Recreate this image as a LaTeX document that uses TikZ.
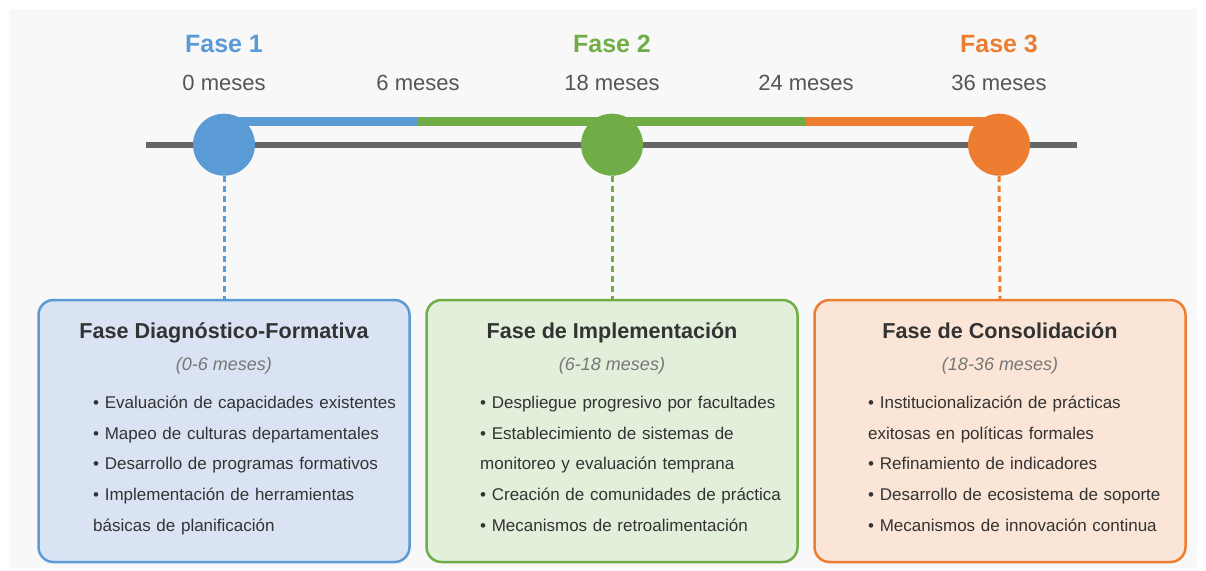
\documentclass[tikz,border=0pt]{standalone}
\usepackage{fontspec}
\setmainfont{Liberation Sans}

\definecolor{fblue}{HTML}{5B9BD5}
\definecolor{fgreen}{HTML}{70AD47}
\definecolor{forange}{HTML}{ED7D31}
\definecolor{lblue}{HTML}{DAE3F3}
\definecolor{lgreen}{HTML}{E2EFDA}
\definecolor{lorange}{HTML}{FBE5D6}
\definecolor{bggray}{HTML}{F8F8F8}
\definecolor{axisgray}{HTML}{666666}
\definecolor{darktext}{HTML}{333333}
\definecolor{ticktext}{HTML}{555555}
\definecolor{subtext}{HTML}{777777}

\begin{document}
\begin{tikzpicture}[x=1pt,y=-1pt,
	phasedot/.style={circle,minimum size=62pt,inner sep=0pt},
	phasename/.style={font=\fontsize{25}{30}\selectfont\bfseries},
	monthlabel/.style={text=ticktext,font=\fontsize{22}{26}\selectfont},
	card/.style={draw,line width=2.5pt,rounded corners=15pt,minimum width=371pt,minimum height=262pt},
	cardtitle/.style={text=darktext,font=\fontsize{21.6}{25}\selectfont\bfseries,anchor=base},
	cardspan/.style={text=subtext,font=\fontsize{18}{22}\selectfont\itshape,anchor=base},
	cardlist/.style={text=darktext,font=\fontsize{17}{30.7}\selectfont,align=left,text width=320pt,inner sep=0pt,anchor=base west},
	link/.style={line width=3pt,dash pattern=on 6pt off 4pt}]
	\useasboundingbox (0,0) rectangle (1206,570);
	\fill[bggray] (9,9) rectangle (1197,568);

	% time axis
	\draw[line width=6pt,axisgray] (146,144.7) -- (1077,144.7);
	\draw[line width=9pt,fblue] (224,121) -- (418,121);
	\draw[line width=9pt,fgreen] (418,121) -- (806,121);
	\draw[line width=9pt,forange] (806,121) -- (999,121);

	% phase markers
	\node[phasedot,fill=fblue] (c1) at (224,144.7) {};
	\node[phasedot,fill=fgreen] (c2) at (612,144.7) {};
	\node[phasedot,fill=forange] (c3) at (999,144.7) {};

	\node[phasename,text=fblue,anchor=base] (f1) at (224,52.3) {Fase 1};
	\node[phasename,text=fgreen,anchor=base] (f2) at (612,52.3) {Fase 2};
	\node[phasename,text=forange,anchor=base] (f3) at (999,52.3) {Fase 3};

	% months
	\node[monthlabel,anchor=base] (m0) at (224,90.7) {0 meses};
	\node[monthlabel,anchor=base] (m6) at (418,90.7) {6 meses};
	\node[monthlabel,anchor=base] (m18) at (612,90.7) {18 meses};
	\node[monthlabel,anchor=base] (m24) at (806,90.7) {24 meses};
	\node[monthlabel,anchor=base] (m36) at (999,90.7) {36 meses};

	% cards
	\node[card,draw=fblue,fill=lblue] (b1) at (224,431) {};
	\node[card,draw=fgreen,fill=lgreen] (b2) at (612,431) {};
	\node[card,draw=forange,fill=lorange] (b3) at (1000,431) {};

	% dashed links
	\draw[link,fblue] (c1.south) -- (b1.north);
	\draw[link,fgreen] (c2.south) -- (b2.north);
	\draw[link,forange] (c3.south) -- (b3.north);

	% card 1
	\node[cardtitle] (t1) at (224,338.3) {Fase Diagnóstico-Formativa};
	\node[cardspan] (s1) at (224,370) {(0-6 meses)};
	\node[cardlist] (l1) at (93,408.3) {• Evaluación de capacidades existentes\\
		• Mapeo de culturas departamentales\\
		• Desarrollo de programas formativos\\
		• Implementación de herramientas\\
		básicas de planificación};

	% card 2
	\node[cardtitle] (t2) at (612,338.3) {Fase de Implementación};
	\node[cardspan] (s2) at (612,370) {(6-18 meses)};
	\node[cardlist] (l2) at (480,408.3) {• Despliegue progresivo por facultades\\
		• Establecimiento de sistemas de\\
		monitoreo y evaluación temprana\\
		• Creación de comunidades de práctica\\
		• Mecanismos de retroalimentación};

	% card 3
	\node[cardtitle] (t3) at (1000,338.3) {Fase de Consolidación};
	\node[cardspan] (s3) at (1000,370) {(18-36 meses)};
	\node[cardlist] (l3) at (868,408.3) {• Institucionalización de prácticas\\
		exitosas en políticas formales\\
		• Refinamiento de indicadores\\
		• Desarrollo de ecosistema de soporte\\
		• Mecanismos de innovación continua};

\end{tikzpicture}
\end{document}
